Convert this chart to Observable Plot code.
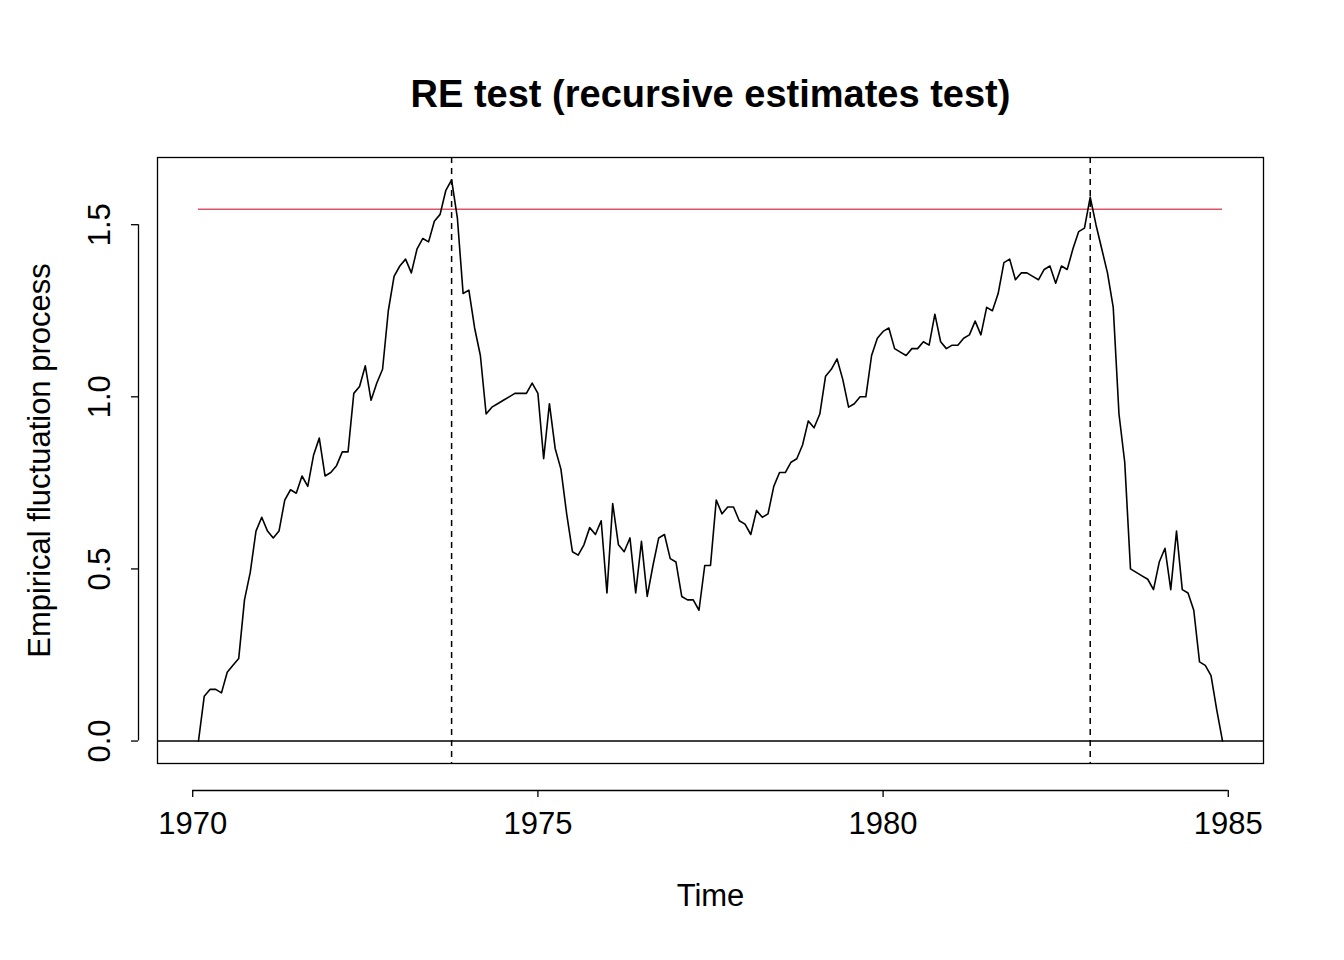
<!DOCTYPE html>
<html><head><meta charset="utf-8">
<script src="https://cdn.jsdelivr.net/npm/d3@7"></script>
<script src="https://cdn.jsdelivr.net/npm/@observablehq/plot@0.6"></script>
<style>body{margin:0;background:#fff}</style>
</head><body><div id="chart"></div>
<script>
const startTime = 1970 + 1/12;
const values = [
0,0.13,0.15,0.15,0.14,0.20,0.22,0.24,0.41,0.49,0.61,
0.65,0.61,0.59,0.61,0.70,0.73,0.72,0.77,0.74,0.83,0.88,0.77,
0.78,0.80,0.84,0.84,1.01,1.03,1.09,0.99,1.04,1.08,1.25,1.35,
1.38,1.40,1.36,1.43,1.46,1.45,1.51,1.53,1.60,1.63,1.52,1.30,
1.31,1.20,1.12,0.95,0.97,0.98,0.99,1.00,1.01,1.01,1.01,1.04,
1.01,0.82,0.98,0.85,0.79,0.66,0.55,0.54,0.57,0.62,0.60,0.64,
0.43,0.69,0.57,0.55,0.59,0.43,0.58,0.42,0.51,0.59,0.60,0.53,
0.52,0.42,0.41,0.41,0.38,0.51,0.51,0.70,0.66,0.68,0.68,0.64,
0.63,0.60,0.67,0.65,0.66,0.74,0.78,0.78,0.81,0.82,0.86,0.93,
0.91,0.95,1.06,1.08,1.11,1.05,0.97,0.98,1.00,1.00,1.12,1.17,
1.19,1.20,1.14,1.13,1.12,1.14,1.14,1.16,1.15,1.24,1.16,1.14,
1.15,1.15,1.17,1.18,1.22,1.18,1.26,1.25,1.30,1.39,1.40,1.34,
1.36,1.36,1.35,1.34,1.37,1.38,1.33,1.38,1.37,1.43,1.48,1.49,
1.58,1.50,1.43,1.36,1.26,0.95,0.81,0.50,0.49,0.48,0.47,0.44,
0.52,0.56,0.44,0.61,0.44,0.43,0.38,0.23,0.22,0.19,0.09,0.00];
const boundary = 1.545;
const breakTimes = [1973.75, 1983.0];
const xTicks = [1970, 1975, 1980, 1985];
const yTicks = [0, 0.5, 1.0, 1.5];

const data = values.map((v,i)=>({t: startTime + i/12, v}));
const tEnd = data[data.length-1].t;
const xr = tEnd - startTime, ymax = d3.max(values);
const xDom = [startTime - 0.04*xr, tEnd + 0.04*xr];
const yDom = [-0.04*ymax, ymax*1.04];
const font = "Liberation Sans, Arial, sans-serif";

const plot = Plot.plot({
  width: 1344, height: 960,
  marginLeft: 157, marginRight: 81, marginTop: 157, marginBottom: 197,
  x: {domain: xDom}, y: {domain: yDom},
  style: {fontFamily: font, background: "#fff"},
  marks: [
    Plot.frame({stroke: "black", strokeWidth: 1.3}),
    Plot.ruleY([0], {stroke: "black", strokeWidth: 1.5}),
    Plot.ruleY([boundary], {x1: startTime, x2: tEnd, stroke: "#DF536B", strokeWidth: 1.5}),
    Plot.ruleX(breakTimes, {stroke: "black", strokeWidth: 1.5, strokeDasharray: "6,5"}),
    Plot.line(data, {x: "t", y: "v", stroke: "black", strokeWidth: 1.6}),
    Plot.axisX({ticks: xTicks, tickSize: 7, tickPadding: 14, dy: 27, fontSize: 31, label: null, tickFormat: d => String(d), stroke: "black", strokeWidth: 1.3}),
    Plot.ruleY([yDom[0]], {x1: 1970, x2: 1985, dy: 27, stroke: "black", strokeWidth: 1.3}),
    Plot.axisY({ticks: yTicks, tickSize: 7, dx: -19, tickFormat: () => "", label: null, stroke: "black", strokeWidth: 1.3}),
    Plot.ruleX([xDom[0]], {y1: 0, y2: 1.5, dx: -19, stroke: "black", strokeWidth: 1.3}),
    Plot.text(yTicks, {y: d => d, text: d => d.toFixed(1), frameAnchor: "left", textAnchor: "middle", dx: -57, rotate: -90, fontSize: 31, fill: "black"}),
    Plot.text(["RE test (recursive estimates test)"], {frameAnchor: "top", dy: -77, fontSize: 38, fontWeight: "bold", fill: "black"}),
    Plot.text(["Time"], {frameAnchor: "bottom", dy: 142, fontSize: 31, fill: "black"}),
    Plot.text(["Empirical fluctuation process"], {frameAnchor: "left", textAnchor: "middle", dx: -117, rotate: -90, fontSize: 31, fill: "black"})
  ]
});
document.getElementById("chart").appendChild(plot);
</script></body></html>
